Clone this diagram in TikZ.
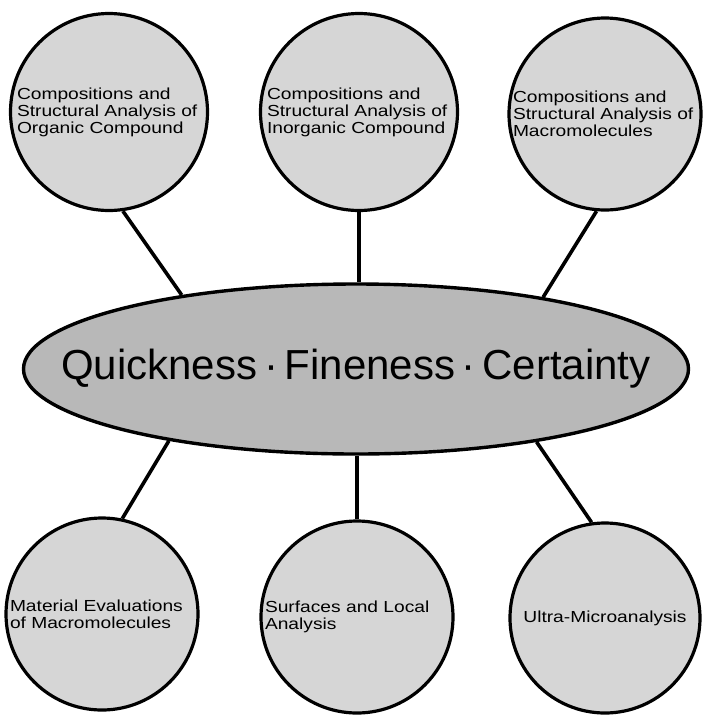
\documentclass[tikz,border=0pt]{standalone}
\usepackage{fontspec}
\setmainfont{Liberation Sans}
\newfontfamily\topicfont[FakeStretch=1.2]{Liberation Sans}
\usepackage{tikz}
\usetikzlibrary{shapes.geometric}
\definecolor{topicgray}{RGB}{214,214,214}
\definecolor{hubgray}{RGB}{184,184,184}
\def\topicnode{\node[topic]}

\begin{document}
\begin{tikzpicture}[x=1pt,y=-1pt,
  topic/.style={circle,draw,line width=3.2pt,fill=topicgray,inner sep=0pt,
    text width=184pt,align=left,font=\topicfont\fontsize{16}{17}\selectfont},
  hub/.style={ellipse,draw,line width=3.4pt,fill=hubgray,inner sep=0pt,
    minimum width=665pt,minimum height=170pt},
  title/.style={font=\fontsize{42}{46}\selectfont},
  link/.style={line width=3.6pt}]
\useasboundingbox (0,0) rectangle (706,716);
\topicnode (organic) [minimum size=197pt] at (109,112) {Compositions and\\Structural Analysis of\\Organic Compound};
\topicnode (inorganic) [minimum size=197pt] at (359,112) {Compositions and\\Structural Analysis of\\Inorganic Compound};
\topicnode (macro) [minimum size=192pt] at (605,114) {Compositions and\\Structural Analysis of\\Macromolecules};
\node[hub,label={[title]center:Quickness\kern.16em·\kern.16em Fineness\kern.16em·\kern.16em Certainty}] (hub) at (356,369) {};
\topicnode (material) [minimum size=192pt] at (102,614) {Material Evaluations\\of Macromolecules};
\topicnode (surface) [minimum size=192pt] at (357,617) {Surfaces and Local\\Analysis};
\topicnode (ultra) [minimum size=190pt,align=center] at (605,618) {Ultra-Microanalysis};
\draw[link] (organic.-82) -- (hub.157);
\draw[link] (inorganic.south) -- (inorganic.south |- hub.north);
\draw[link] (macro.-95) -- (hub.21);
\draw[link] (material.78) -- (hub.201);
\draw[link] (surface.north) -- (surface.north |- hub.south);
\draw[link] (ultra.98) -- (hub.-22);
\end{tikzpicture}
\end{document}
